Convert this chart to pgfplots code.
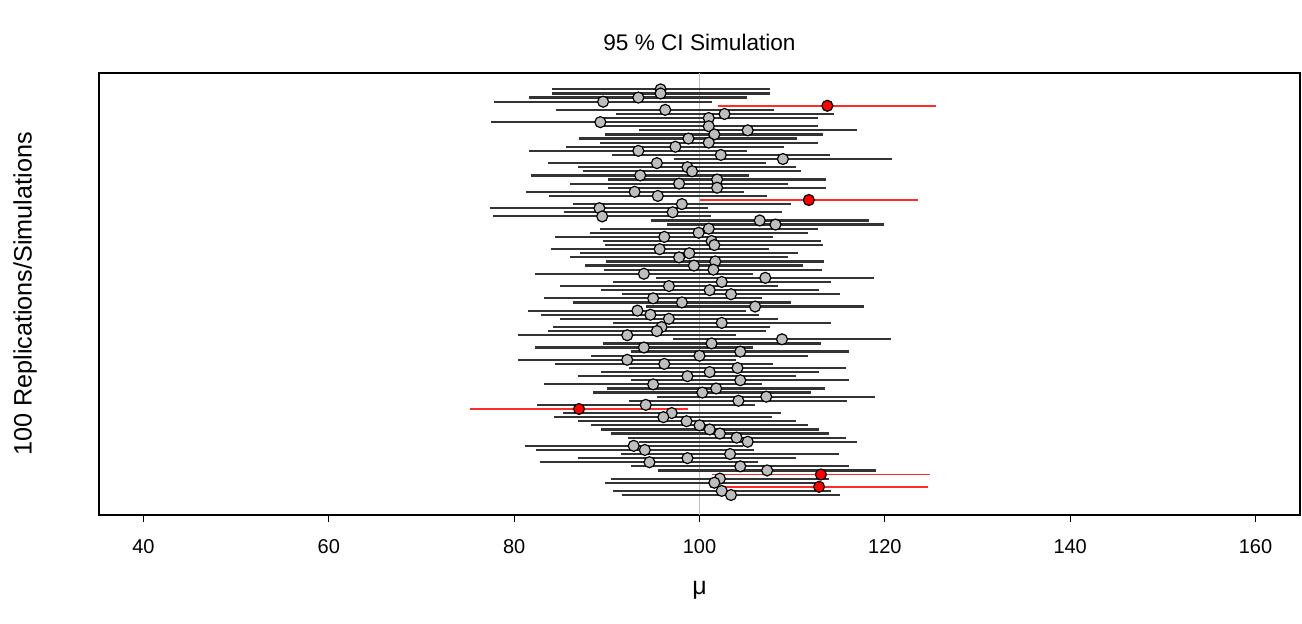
\documentclass[border=0pt]{standalone}
\usepackage{fontspec}
\setmainfont{Liberation Sans}
\usepackage{pgfplots}
\usepackage{pgfplotstable}
\pgfplotsset{compat=1.18}
\definecolor{ptgray}{HTML}{BEBEBE}
\definecolor{cired}{HTML}{FF2A2A}

% replication, estimated mean (CIs contain 100)
\pgfplotstableread{
rep mu
100 95.8
99 95.8
98 93.4
97 89.6
95 96.3
94 102.7
93 101.0
92 89.3
91 101.0
90 105.2
89 101.6
88 98.8
87 101.0
86 97.4
85 93.4
84 102.3
83 109.0
82 95.4
81 98.7
80 99.2
79 93.6
78 101.9
77 97.8
76 101.9
75 93.0
74 95.5
72 98.1
71 89.2
70 97.1
69 89.5
68 106.5
67 108.2
66 101.0
65 99.9
64 96.2
63 101.3
62 101.6
61 95.7
60 98.9
59 97.8
58 101.7
57 99.4
56 101.5
55 94.0
54 107.1
53 102.4
52 96.7
51 101.1
50 103.4
49 95.0
48 98.1
47 106.0
46 93.3
45 94.7
44 96.7
43 102.4
42 95.9
41 95.4
40 92.2
39 108.9
38 101.3
37 94.0
36 104.4
35 100.0
34 92.2
33 96.2
32 104.1
31 101.1
30 98.7
29 104.4
28 95.0
27 101.8
26 100.3
25 107.2
24 104.2
23 94.2
21 97.0
20 96.1
19 98.6
18 100.0
17 101.1
16 102.2
15 104.0
14 105.2
13 92.9
12 94.1
11 103.3
10 98.7
9 94.6
8 104.4
7 107.3
5 102.2
4 101.6
2 102.4
1 103.4
}\hits

% CIs that miss 100
\pgfplotstableread{
rep mu
96 113.8
73 111.8
22 87.0
6 113.1
3 112.9
}\misses

\begin{document}
\begin{tikzpicture}
\begin{axis}[
  scale only axis, width=600.5pt, height=221pt,
  xmin=35.2, xmax=164.8, ymin=-3.88, ymax=104,
  xtick={40,60,...,160}, ytick=\empty,
  xtick pos=bottom, tick align=outside,
  major tick length=3.5pt,
  tick style={black, line width=0.5pt},
  axis line style={black, line width=0.6pt},
  /pgf/number format/assume math mode=true,
  ticklabel style={font=\fontsize{10}{12}\selectfont},
  xticklabel style={yshift=-5pt},
  clip=false]
\addplot[gray!50, line width=0.5pt] coordinates {(100,-3.88) (100,104)};
\addplot[draw=none, mark=none, error bars/.cd, x dir=both, x fixed=11.76, error mark=none,
  error bar style={draw=black!80, line width=1.1pt}] table[x=mu, y=rep]{\hits};
\addplot[draw=none, mark=none, error bars/.cd, x dir=both, x fixed=11.76, error mark=none,
  error bar style={draw=cired, line width=0.8pt}] table[x=mu, y=rep]{\misses};
\addplot[only marks, mark=*, mark size=2.75pt, mark options={fill=ptgray, draw=black, line width=0.6pt}]
  table[x=mu, y=rep]{\hits};
\addplot[only marks, mark=*, mark size=2.75pt, mark options={fill=red, draw=black, line width=0.6pt}]
  table[x=mu, y=rep]{\misses};
\node[font=\fontsize{11.3}{13}\selectfont] at ([yshift=15.5pt]rel axis cs:0.5,1) {95 \% CI Simulation};
\node[font=\fontsize{12.6}{14}\selectfont, rotate=90] at ([xshift=-37pt]rel axis cs:0,0.5) {100 Replications/Simulations};
\node[font=\fontsize{12.5}{14}\selectfont] at ([yshift=-37.5pt]rel axis cs:0.5,0) {μ};
\end{axis}
\path ([xshift=-49.5pt, yshift=-54.5pt]current axis.south west) rectangle ([xshift=1pt, yshift=36.5pt]current axis.north east);
\end{tikzpicture}
\end{document}
